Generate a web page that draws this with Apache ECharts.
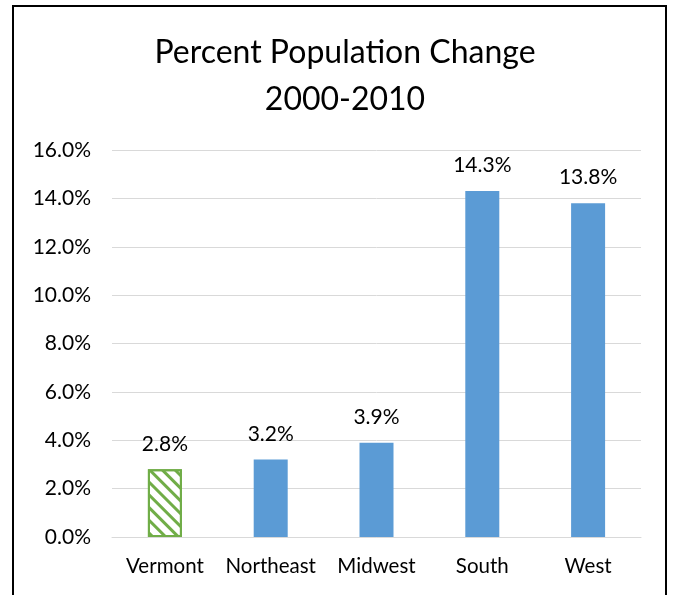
<!DOCTYPE html>
<html>
<head>
<meta charset="utf-8">
<title>Percent Population Change 2000-2010</title>
<script src="https://cdn.jsdelivr.net/npm/echarts@6/dist/echarts.min.js"></script>
<style>
    html, body { margin: 0; padding: 0; background: #fff; }
    #chart { width: 674px; height: 595px; }
</style>
</head>
<body>
<div id="chart"></div>
<script>
// 数据
const regions = ['Vermont', 'Northeast', 'Midwest', 'South', 'West'];
const changePct = [2.8, 3.2, 3.9, 14.3, 13.8];
const highlightIndex = 0; // Vermont 用斜线填充

document.addEventListener('DOMContentLoaded', function() {
    const chart = echarts.init(document.getElementById('chart'));
    const font = 'Lato, "Open Sans", sans-serif';

    const barData = changePct.map(function(v, i) {
        if (i !== highlightIndex) return v;
        return {
            value: v,
            itemStyle: {
                color: '#ffffff',
                borderColor: '#70AD47',
                borderWidth: 2,
                decal: {
                    symbol: 'rect',
                    color: '#70AD47',
                    dashArrayX: [1, 0],
                    dashArrayY: [3, 6],
                    rotation: Math.PI / 4
                }
            }
        };
    });

    const option = {
        animation: false,
        title: {
            text: 'Percent Population Change\n2000-2010',
            left: 340,
            top: 24,
            textAlign: 'center',
            textStyle: {
                fontFamily: font,
                fontSize: 32,
                fontWeight: 'normal',
                color: '#000',
                lineHeight: 47
            }
        },
        grid: {
            left: 112,
            right: 33,
            top: 150,
            bottom: 58
        },
        xAxis: {
            type: 'category',
            data: regions,
            axisTick: { show: false },
            axisLine: { lineStyle: { color: '#d9d9d9', width: 1 } },
            axisLabel: {
                interval: 0,
                hideOverlap: false,
                margin: 19,
                fontFamily: font,
                fontSize: 20.5,
                color: '#000'
            }
        },
        yAxis: {
            type: 'value',
            min: 0,
            max: 16,
            interval: 2,
            axisLabel: {
                margin: 21,
                fontFamily: font,
                fontSize: 21,
                color: '#000',
                formatter: function(v) { return v.toFixed(1) + '%'; }
            },
            splitLine: { lineStyle: { color: '#d9d9d9', width: 1 } }
        },
        series: [{
            type: 'bar',
            data: barData,
            barWidth: 34,
            itemStyle: { color: '#5B9BD5' },
            label: {
                show: true,
                position: 'top',
                distance: 15,
                fontFamily: font,
                fontSize: 21,
                color: '#000',
                formatter: function(p) { return p.value.toFixed(1) + '%'; }
            }
        }],
        graphic: [{
            type: 'polyline',
            shape: { points: [[13, 600], [13, 6], [666, 6], [666, 600]] },
            style: { stroke: '#000', lineWidth: 2, fill: null }
        }]
    };
    chart.setOption(option);

    window.addEventListener('resize', function() {
        chart.resize();
    });
});
</script>
</body>
</html>
